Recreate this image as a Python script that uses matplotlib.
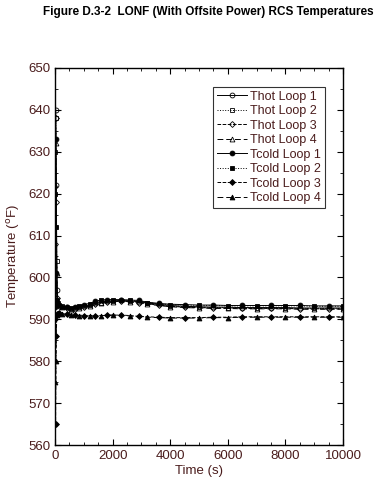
import numpy as np
import matplotlib
matplotlib.use("Agg")
from matplotlib import pyplot as plt
from matplotlib.ticker import MultipleLocator

plt.rcParams['font.family'] = ['Liberation Sans', 'DejaVu Sans']

# time points (s)
t = [0, 10, 20, 30, 45, 60, 80, 100, 150, 250, 400, 550, 700, 850, 1000, 1200,
     1400, 1600, 1800, 2000, 2300, 2600, 2900, 3200, 3600, 4000, 4500, 5000,
     5500, 6000, 6500, 7000, 7500, 8000, 8500, 9000, 9500, 10000]

# hot leg temperatures (F)
thot1 = [612, 628, 640, 636, 622, 606, 597, 594, 593.4, 593.2, 592.9, 592.6, 592.7, 593.0,
         593.2, 593.4, 593.8, 594.1, 594.3, 594.4, 594.5, 594.4, 594.2, 593.9, 593.6, 593.3,
         593.1, 593.0, 592.9, 592.9, 592.8, 592.8, 592.8, 592.8, 592.7, 592.7, 592.7, 592.7]
thot2 = [610, 630, 641, 638, 620, 604, 596, 593.8, 593.3, 593.1, 592.8, 592.5, 592.6, 592.9,
         593.1, 593.3, 593.7, 594.0, 594.2, 594.3, 594.4, 594.3, 594.1, 593.8, 593.5, 593.2,
         593.0, 592.9, 592.8, 592.8, 592.7, 592.7, 592.7, 592.7, 592.6, 592.6, 592.6, 592.6]
thot3 = [608, 624, 638, 634, 618, 603, 595, 593.6, 593.2, 593.0, 592.7, 592.4, 592.5, 592.8,
         593.0, 593.2, 593.6, 593.9, 594.1, 594.2, 594.3, 594.2, 594.0, 593.7, 593.4, 593.1,
         592.9, 592.8, 592.7, 592.7, 592.6, 592.6, 592.6, 592.6, 592.5, 592.5, 592.5, 592.5]
thot4 = [606, 622, 635, 632, 616, 601, 594.5, 593.4, 593.1, 592.9, 592.6, 592.3, 592.4, 592.7,
         592.9, 593.1, 593.5, 593.8, 594.0, 594.1, 594.2, 594.1, 593.9, 593.6, 593.3, 593.0,
         592.8, 592.7, 592.6, 592.6, 592.5, 592.5, 592.5, 592.5, 592.4, 592.4, 592.4, 592.4]

# cold leg temperatures (F)
tcold1 = [593, 627, 633, 622, 601, 595, 593.8, 593.5, 593.3, 593.1, 592.9, 592.8, 593.0, 593.3,
          593.5, 593.8, 594.3, 594.6, 594.7, 594.7, 594.7, 594.6, 594.5, 594.1, 593.8, 593.6,
          593.5, 593.4, 593.4, 593.3, 593.3, 593.3, 593.3, 593.3, 593.3, 593.2, 593.2, 593.2]
tcold2 = [593, 620, 630, 612, 600, 594.5, 593.6, 593.4, 593.2, 593.0, 592.8, 592.7, 592.9, 593.2,
          593.4, 593.7, 594.2, 594.5, 594.6, 594.6, 594.6, 594.5, 594.4, 594.0, 593.7, 593.5,
          593.4, 593.3, 593.3, 593.2, 593.2, 593.2, 593.2, 593.2, 593.2, 593.1, 593.1, 593.1]
tcold3 = [590, 572, 565, 578, 586, 590.5, 591.3, 591.5, 591.5, 591.4, 591.2, 591.1, 591.0, 591.0,
          590.9, 590.9, 590.9, 590.9, 591.0, 591.0, 591.0, 590.9, 590.7, 590.6, 590.5, 590.4,
          590.4, 590.4, 590.5, 590.5, 590.6, 590.6, 590.6, 590.6, 590.6, 590.6, 590.6, 590.6]
tcold4 = [590, 575, 571, 580, 588, 591, 591.4, 591.6, 591.5, 591.3, 591.1, 591.0, 590.9, 590.9,
          590.8, 590.8, 590.8, 590.9, 590.9, 591.0, 590.9, 590.8, 590.6, 590.5, 590.4, 590.3,
          590.3, 590.3, 590.4, 590.4, 590.5, 590.5, 590.5, 590.5, 590.5, 590.5, 590.5, 590.5]

labels = ['Thot Loop 1', 'Thot Loop 2', 'Thot Loop 3', 'Thot Loop 4',
          'Tcold Loop 1', 'Tcold Loop 2', 'Tcold Loop 3', 'Tcold Loop 4']
series = [thot1, thot2, thot3, thot4, tcold1, tcold2, tcold3, tcold4]
styles = [('-', 'o', 'none'), (':', 's', 'none'), ('--', 'D', 'none'), ((0, (6, 3)), '^', 'none'),
          ('-', 'o', 'k'), (':', 's', 'k'), ('--', 'D', 'k'), ((0, (6, 3)), '^', 'k')]
msizes = [3.5, 3.5, 3, 3.5, 3.5, 3, 3, 3.5]

txt = '#4a1c1c'

fig = plt.figure(figsize=(3.78, 4.92), dpi=100)
ax = fig.add_axes([0.1455, 0.0955, 0.762, 0.7665])

for i in range(len(series)):
    ls, mk, fc = styles[i]
    ax.plot(t, series[i], linestyle=ls, marker=mk, markerfacecolor=fc,
            markeredgecolor='k', color='k', lw=0.7, ms=msizes[i], mew=0.6,
            markevery=(i % 2, 2), label=labels[i])

ax.set_xlim(0, 10000)
ax.set_ylim(560, 650)
ax.xaxis.set_major_locator(MultipleLocator(2000))
ax.xaxis.set_minor_locator(MultipleLocator(500))
ax.yaxis.set_major_locator(MultipleLocator(10))
ax.yaxis.set_minor_locator(MultipleLocator(5))
ax.tick_params(which='both', direction='in', top=True, right=True, labelsize=9.5, colors='k',
               labelcolor=txt)
ax.tick_params(which='major', length=4)
ax.tick_params(which='minor', length=2)
for s in ax.spines.values():
    s.set_linewidth(1.0)

ax.set_xlabel('Time (s)', fontsize=9.5, color=txt, labelpad=2)
ax.set_ylabel('Temperature ($^{\\rm o}$F)', fontsize=9.5, color=txt, labelpad=4)

leg = ax.legend(loc='upper right', bbox_to_anchor=(0.9375, 0.9496), fontsize=9, frameon=True,
                fancybox=False, edgecolor='k', handlelength=2.4, handletextpad=0.3,
                labelspacing=0.2, borderpad=0.3, borderaxespad=0, labelcolor=txt)
leg.get_frame().set_linewidth(0.8)

fig.text(0.55, 0.975, 'Figure D.3-2  LONF (With Offsite Power) RCS Temperatures',
         ha='center', va='center', fontsize=8.5, fontweight='bold')

fig.savefig('out.png', dpi=100)
